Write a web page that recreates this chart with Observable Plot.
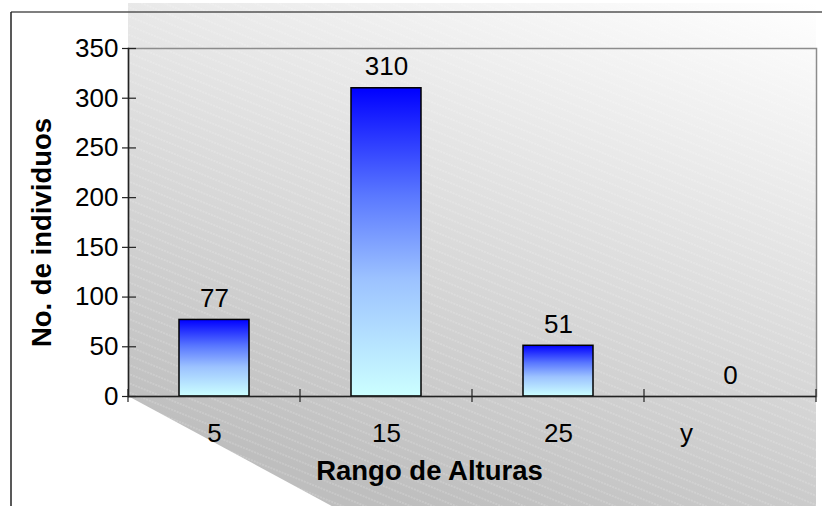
<!DOCTYPE html>
<html>
<head>
<meta charset="utf-8">
<script src="https://cdn.jsdelivr.net/npm/d3@7"></script>
<script src="https://cdn.jsdelivr.net/npm/@observablehq/plot@0.6"></script>
<style>
  html, body { margin: 0; padding: 0; background: #fff; }
  #chart { width: 822px; height: 506px; overflow: hidden; }
</style>
</head>
<body>
<div id="chart"></div>
<script>
// Height classes and number of individuals in each
const categories = ["5", "15", "25", "y"];
const counts = [77, 310, 51, 0];
const yTicks = [0, 50, 100, 150, 200, 250, 300, 350];
const xTitle = "Rango de Alturas";
const yTitle = "No. de individuos";

const data = categories.map((c, i) => ({rango: c, n: counts[i]}));

const W = 822, H = 506;
const font = "'Liberation Sans', Arial, Helvetica, sans-serif";

// Gradient definitions shared by the bars and the backdrop
function gradientDefs() {
  const defs = d3.create("svg:defs");
  const bar = defs.append("linearGradient")
    .attr("id", "barFill").attr("x1", 0).attr("y1", 0).attr("x2", 0).attr("y2", 1);
  [[0, "#0000ff"], [0.35, "#5a78ff"], [0.62, "#9cc2ff"], [1, "#ccffff"]]
    .forEach(([o, c]) => bar.append("stop").attr("offset", o).attr("stop-color", c));

  const wall = defs.append("linearGradient")
    .attr("id", "wallFill").attr("gradientUnits", "userSpaceOnUse")
    .attr("x1", 816).attr("y1", 3).attr("x2", 636).attr("y2", 575);
  wall.append("stop").attr("offset", 0).attr("stop-color", "#ffffff");
  wall.append("stop").attr("offset", 1).attr("stop-color", "#bebebe");

  const hatch = defs.append("pattern")
    .attr("id", "wallHatch").attr("patternUnits", "userSpaceOnUse")
    .attr("width", 12).attr("height", 8.5)
    .attr("patternTransform", "rotate(22)");
  hatch.append("line")
    .attr("x1", 0).attr("y1", 1).attr("x2", 12).attr("y2", 1)
    .attr("stroke", "#ffffff").attr("stroke-opacity", 0.32).attr("stroke-width", 1)
    .attr("stroke-dasharray", "2 1");
  return defs.node();
}

const plot = Plot.plot({
  width: W,
  height: H,
  marginLeft: 128,
  marginRight: 6,
  marginTop: 48,
  marginBottom: 110,
  style: {fontFamily: font, fontSize: "26px", color: "#000", background: "transparent", overflow: "visible"},
  x: {domain: categories, padding: 0},
  y: {domain: [0, 350]},
  marks: [
    gradientDefs,
    Plot.frame({stroke: "#8c8c8c", strokeWidth: 1.5}),
    Plot.barY(data, {
      x: "rango", y: "n",
      fill: "url(#barFill)", stroke: "#000", strokeWidth: 1.5,
      insetLeft: 51, insetRight: 51
    }),
    Plot.ruleY([0], {stroke: "#222", strokeWidth: 1.5}),
    Plot.frame({anchor: "left", stroke: "#222", strokeWidth: 1.5}),
    Plot.axisY({ticks: yTicks, tickSize: 14, tickPadding: 4, dx: 8, label: null, fontSize: 26, stroke: "#222", strokeWidth: 1.2}),
    Plot.axisX({ticks: categories.slice(0, 3), tickSize: 0, tickPadding: 27, label: null, fontSize: 26}),
    Plot.axisX({ticks: categories.slice(3), tickSize: 0, tickPadding: 27, dx: -44, label: null, fontSize: 26}),
    Plot.text(data, {x: "rango", y: "n", text: d => String(d.n), lineAnchor: "bottom", dy: -13, fontSize: 26}),
    Plot.text([xTitle], {frameAnchor: "bottom", textAnchor: "middle", lineAnchor: "bottom", dx: -43, dy: 83, fontSize: 27.5, fontWeight: "bold"}),
    Plot.text([yTitle], {frameAnchor: "left", textAnchor: "middle", rotate: -90, lineAnchor: "bottom", dx: -78, dy: 10, fontSize: 27.5, fontWeight: "bold"})
  ]
});

document.getElementById("chart").appendChild(plot);

// Backdrop wall with its slanted floor edge, plus the outer chart border
const svg = d3.select(plot);
const xs = plot.scale("x");
const ys = plot.scale("y");
const left = xs.range[0], right = xs.range[1];
const base = ys.apply(0);
const slope = 0.54;
const wallPts = [[left, 3], [right, 3], [right, H], [left + (H - base) / slope, H], [left, base]];
const bg = svg.insert("g", ":first-child");
bg.append("polygon").attr("points", wallPts.map(p => p.join(",")).join(" ")).attr("fill", "url(#wallFill)");
bg.append("polygon").attr("points", wallPts.map(p => p.join(",")).join(" ")).attr("fill", "url(#wallHatch)");
bg.append("line").attr("x1", 11).attr("y1", 12).attr("x2", W).attr("y2", 12)
  .attr("stroke", "#555").attr("stroke-width", 1.5);
bg.append("line").attr("x1", 11).attr("y1", 12).attr("x2", 11).attr("y2", H)
  .attr("stroke", "#222").attr("stroke-width", 1.5);

// Category boundary ticks crossing the baseline
const step = xs.apply(categories[1]) - xs.apply(categories[0]);
const bounds = categories.map(c => xs.apply(c)).concat([xs.apply(categories[categories.length - 1]) + step]);
const tg = svg.append("g").attr("stroke", "#222").attr("stroke-width", 1.2);
bounds.forEach(b => tg.append("line").attr("x1", b).attr("x2", b).attr("y1", base - 7).attr("y2", base + 6));
</script>
</body>
</html>
